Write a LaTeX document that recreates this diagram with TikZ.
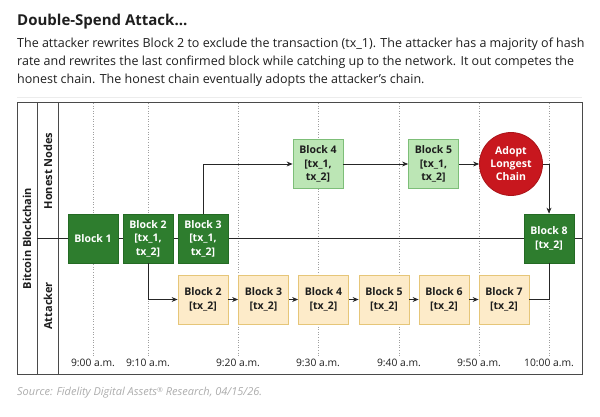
\documentclass[tikz,border=0pt]{standalone}
\usepackage{fontspec}
\setmainfont{Open Sans}
\usetikzlibrary{arrows.meta,backgrounds}
\definecolor{dkgreen}{HTML}{2E7D2E}
\definecolor{dkgreenb}{HTML}{246A24}
\definecolor{ltgreen}{HTML}{BCE6B5}
\definecolor{ltgreenb}{HTML}{7DBE78}
\definecolor{ylw}{HTML}{FDEBC9}
\definecolor{ylwb}{HTML}{E6C679}
\definecolor{adoptred}{HTML}{C8171E}
\definecolor{framegray}{HTML}{4A4A4A}
\definecolor{txtdark}{HTML}{1E1E1E}
\begin{document}
\begin{tikzpicture}[x=1pt,y=-1pt,
  blk/.style={minimum width=50pt, minimum height=49pt, inner sep=0pt, align=center,
    font=\fontsize{10.5}{13.5}\selectfont\bfseries, line width=0.8pt},
  hon/.style={blk, fill=dkgreen, draw=dkgreenb, text=white},
  hlt/.style={blk, fill=ltgreen, draw=ltgreenb, text=txtdark},
  atk/.style={blk, fill=ylw, draw=ylwb, text=txtdark},
  conn/.style={draw=black!85, line width=0.8pt},
  arr/.style={conn, -{Stealth[length=6pt,width=5pt]}},
  tick/.style={draw=gray!75, dotted, line width=0.6pt},
  tlab/.style={font=\fontsize{10.3}{12}\selectfont, text=txtdark, inner sep=2pt},
  lane/.style={font=\fontsize{11}{12}\selectfont\bfseries, rotate=90, text=txtdark},
  frame/.style={draw=framegray, line width=1pt},
  body/.style={anchor=west, inner sep=0pt, font=\fontsize{12.5}{14}\selectfont, text=txtdark}
]
\useasboundingbox (0,0) rectangle (600,417);

% header
\node[anchor=west, inner sep=0pt, font=\fontsize{15}{17}\selectfont\bfseries, text=txtdark] (title) at (17,22) {Double-Spend Attack...};
\node[body] (l1) at (17,44) {The attacker rewrites Block 2 to exclude the transaction (tx\_1). The attacker has a majority of hash};
\node[body] (l2) at (17,62) {rate and rewrites the last confirmed block while catching up to the network. It out competes the};
\node[body] (l3) at (17,80) {honest chain. The honest chain eventually adopts the attacker’s chain.};

% lane labels
\node[lane] (lbc) at (27,238.5) {Bitcoin Blockchain};
\node[lane] (lhn) at (48,171) {Honest Nodes};
\node[lane] (lat) at (48,306) {Attacker};

% time labels
\node[tlab] (t1) at (93,363) {9:00 a.m.};
\node[tlab] (t2) at (148,363) {9:10 a.m.};
\node[tlab] (t3) at (238,363) {9:20 a.m.};
\node[tlab] (t4) at (318,363) {9:30 a.m.};
\node[tlab] (t5) at (399,363) {9:40 a.m.};
\node[tlab] (t6) at (479,363) {9:50 a.m.};
\node[tlab] (t7) at (549,363) {10:00 a.m.};

% blocks on the main chain
\node[hon] (b1) at (93,238.5) {Block 1};
\node[hon] (b2) at (148,238.5) {Block 2\\{[}tx\_1,\\tx\_2{]}};
\node[hon] (b3) at (203,238.5) {Block 3\\{[}tx\_1,\\tx\_2{]}};
\node[hon] (b8) at (549,238.5) {Block 8\\{[}tx\_2{]}};

% honest nodes
\node[hlt] (h4) at (318,164) {Block 4\\{[}tx\_1,\\tx\_2{]}};
\node[hlt] (h5) at (433.5,164) {Block 5\\{[}tx\_1,\\tx\_2{]}};
\node[circle, fill=adoptred, draw=adoptred!85!black, line width=0.8pt, minimum size=63pt, inner sep=0pt,
  align=center, text=white, font=\fontsize{10.5}{13}\selectfont\bfseries] (adopt) at (511,164) {Adopt\\Longest\\Chain};

% attacker
\node[atk] (a2) at (203,299.5) {Block 2\\{[}tx\_2{]}};
\node[atk] (a3) at (263.5,299.5) {Block 3\\{[}tx\_2{]}};
\node[atk] (a4) at (323.5,299.5) {Block 4\\{[}tx\_2{]}};
\node[atk] (a5) at (384,299.5) {Block 5\\{[}tx\_2{]}};
\node[atk] (a6) at (444,299.5) {Block 6\\{[}tx\_2{]}};
\node[atk] (a7) at (504,299.5) {Block 7\\{[}tx\_2{]}};

% source
\node[anchor=west, inner sep=0pt, font=\fontsize{11}{12}\selectfont\itshape, text=gray!65] (src) at (17,393)
  {Source: Fidelity Digital Assets\raisebox{3.5pt}{\fontsize{7}{7}\selectfont ®} Research, 04/15/26.};

\begin{scope}[on background layer]
  \draw[gray!15, line width=0.6pt] (17,97) -- (582,97);
  % dotted time lines
  \foreach \t/\x in {t1/93,t2/148,t3/238,t4/318,t5/399,t6/479,t7/549}
    \draw[tick] (\x,103) -- (\t.north);
  % frame
  \draw[frame] (17,103) rectangle (582,374);
  \draw[frame] (37,103) -- (37,374);
  \draw[frame] (58,103) -- (58,374);
  \draw[conn] (37,238.5) -- (582,238.5);
\end{scope}

% connectors
\draw[arr] (b3.north) |- (h4.west);
\draw[arr] (h4.east) -- (h5.west);
\draw[arr] (h5.east) -- (adopt.west);
\draw[arr] (adopt.east) -| (b8.north);
\draw[arr] (b2.south) |- (a2.west);
\draw[arr] (a2.east) -- (a3.west);
\draw[arr] (a3.east) -- (a4.west);
\draw[arr] (a4.east) -- (a5.west);
\draw[arr] (a5.east) -- (a6.west);
\draw[arr] (a6.east) -- (a7.west);
\draw[conn] (a7.east) -| (b8.south);
\end{tikzpicture}
\end{document}
